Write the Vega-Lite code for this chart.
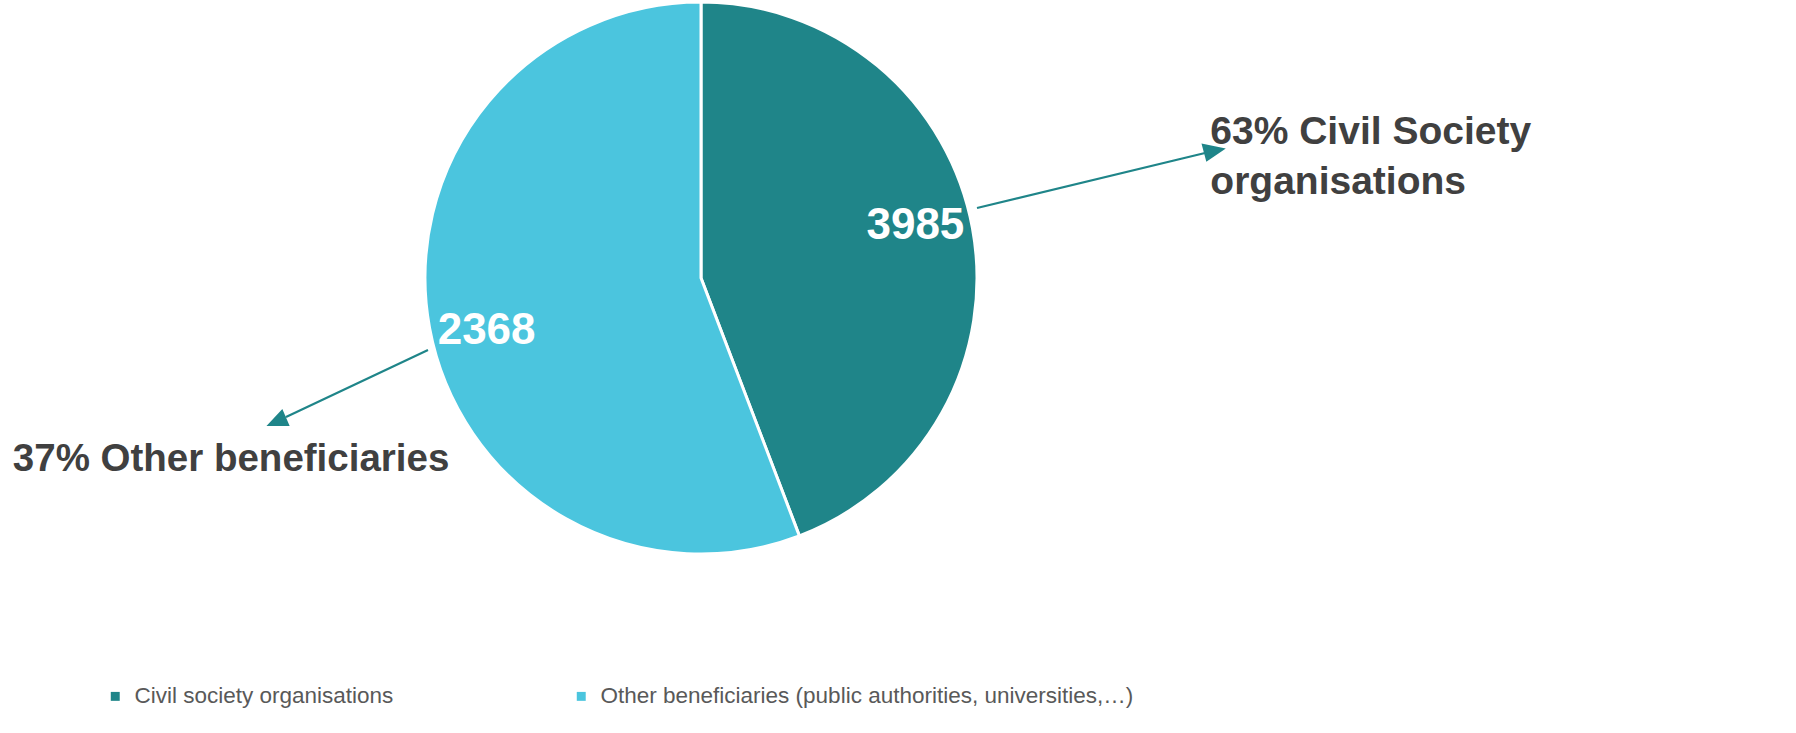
{
  "$schema": "https://vega.github.io/schema/vega-lite/v6.json",
  "width": 1402,
  "height": 556,
  "padding": {"left": 0, "top": 0, "right": 394, "bottom": 177},
  "autosize": {"type": "none"},
  "background": "white",
  "config": {
    "font": "Liberation Sans",
    "view": {"stroke": null}
  },
  "data": {
    "values": [
      {"category": "Civil society organisations", "count": 3985, "drawn_share": 44.2, "annotation": "63% Civil Society\norganisations"},
      {"category": "Other beneficiaries (public authorities, universities,…)", "count": 2368, "drawn_share": 55.8, "annotation": "37% Other beneficiaries"}
    ]
  },
  "layer": [
    {
      "mark": {"type": "arc", "outerRadius": 276, "stroke": "white", "strokeWidth": 3},
      "encoding": {
        "theta": {"field": "drawn_share", "type": "quantitative", "stack": true},
        "order": {"field": "count", "type": "quantitative", "sort": "descending"},
        "color": {
          "field": "category",
          "type": "nominal",
          "scale": {
            "domain": ["Civil society organisations", "Other beneficiaries (public authorities, universities,…)"],
            "range": ["#1F8589", "#4BC5DE"]
          },
          "legend": {
            "title": null,
            "orient": "none",
            "legendX": 104,
            "legendY": 685,
            "direction": "horizontal",
            "symbolType": "square",
            "symbolSize": 80,
            "symbolStrokeWidth": 0,
            "labelFontSize": 22.5,
            "labelColor": "#595959",
            "labelOffset": 8,
            "labelLimit": 800,
            "columnPadding": 176,
            "encode": {"symbols": {"update": {"shape": {"value": "square"}, "size": {"value": 80}}}}
          }
        }
      }
    },
    {
      "mark": {"type": "text", "radius": 218, "fill": "white", "fontWeight": "bold", "fontSize": 44, "dy": -12},
      "encoding": {
        "theta": {"field": "drawn_share", "type": "quantitative", "stack": true},
        "order": {"field": "count", "type": "quantitative", "sort": "descending"},
        "text": {"condition": {"test": "datum.category === 'Civil society organisations'", "field": "count", "type": "quantitative"}, "value": ""}
      }
    },
    {
      "mark": {"type": "text", "radius": 218, "fill": "white", "fontWeight": "bold", "fontSize": 44, "dy": 13},
      "encoding": {
        "theta": {"field": "drawn_share", "type": "quantitative", "stack": true},
        "order": {"field": "count", "type": "quantitative", "sort": "descending"},
        "text": {"condition": {"test": "datum.category !== 'Civil society organisations'", "field": "count", "type": "quantitative"}, "value": ""}
      }
    },
    {
      "mark": {"type": "text", "radius": 525, "dx": -7, "dy": -39, "align": "left", "baseline": "alphabetic", "lineBreak": "\n", "lineHeight": 50, "fill": "#404040", "fontWeight": "bold", "fontSize": 39},
      "encoding": {
        "theta": {"field": "drawn_share", "type": "quantitative", "stack": true},
        "order": {"field": "count", "type": "quantitative", "sort": "descending"},
        "text": {"condition": {"test": "datum.category === 'Civil society organisations'", "field": "annotation", "type": "nominal"}, "value": ""}
      }
    },
    {
      "mark": {"type": "text", "radius": 713, "dx": 13, "dy": 64, "align": "left", "baseline": "alphabetic", "fill": "#404040", "fontWeight": "bold", "fontSize": 38.5},
      "encoding": {
        "theta": {"field": "drawn_share", "type": "quantitative", "stack": true},
        "order": {"field": "count", "type": "quantitative", "sort": "descending"},
        "text": {"condition": {"test": "datum.category !== 'Civil society organisations'", "field": "annotation", "type": "nominal"}, "value": ""}
      }
    },
    {
      "mark": {"type": "point", "size": 4, "filled": true, "opacity": 1, "fill": "#1F8589", "stroke": "#1F8589", "strokeWidth": 2.2},
      "encoding": {
        "shape": {
          "field": "count",
          "type": "nominal",
          "legend": null,
          "scale": {
            "domain": [3985, 2368],
            "range": ["M276,-70L504,-125M522,-129L506,-118L502,-133Z", "M-273,72L-415,139M-432,147L-413,147L-419,133Z"]
          }
        }
      }
    }
  ]
}
